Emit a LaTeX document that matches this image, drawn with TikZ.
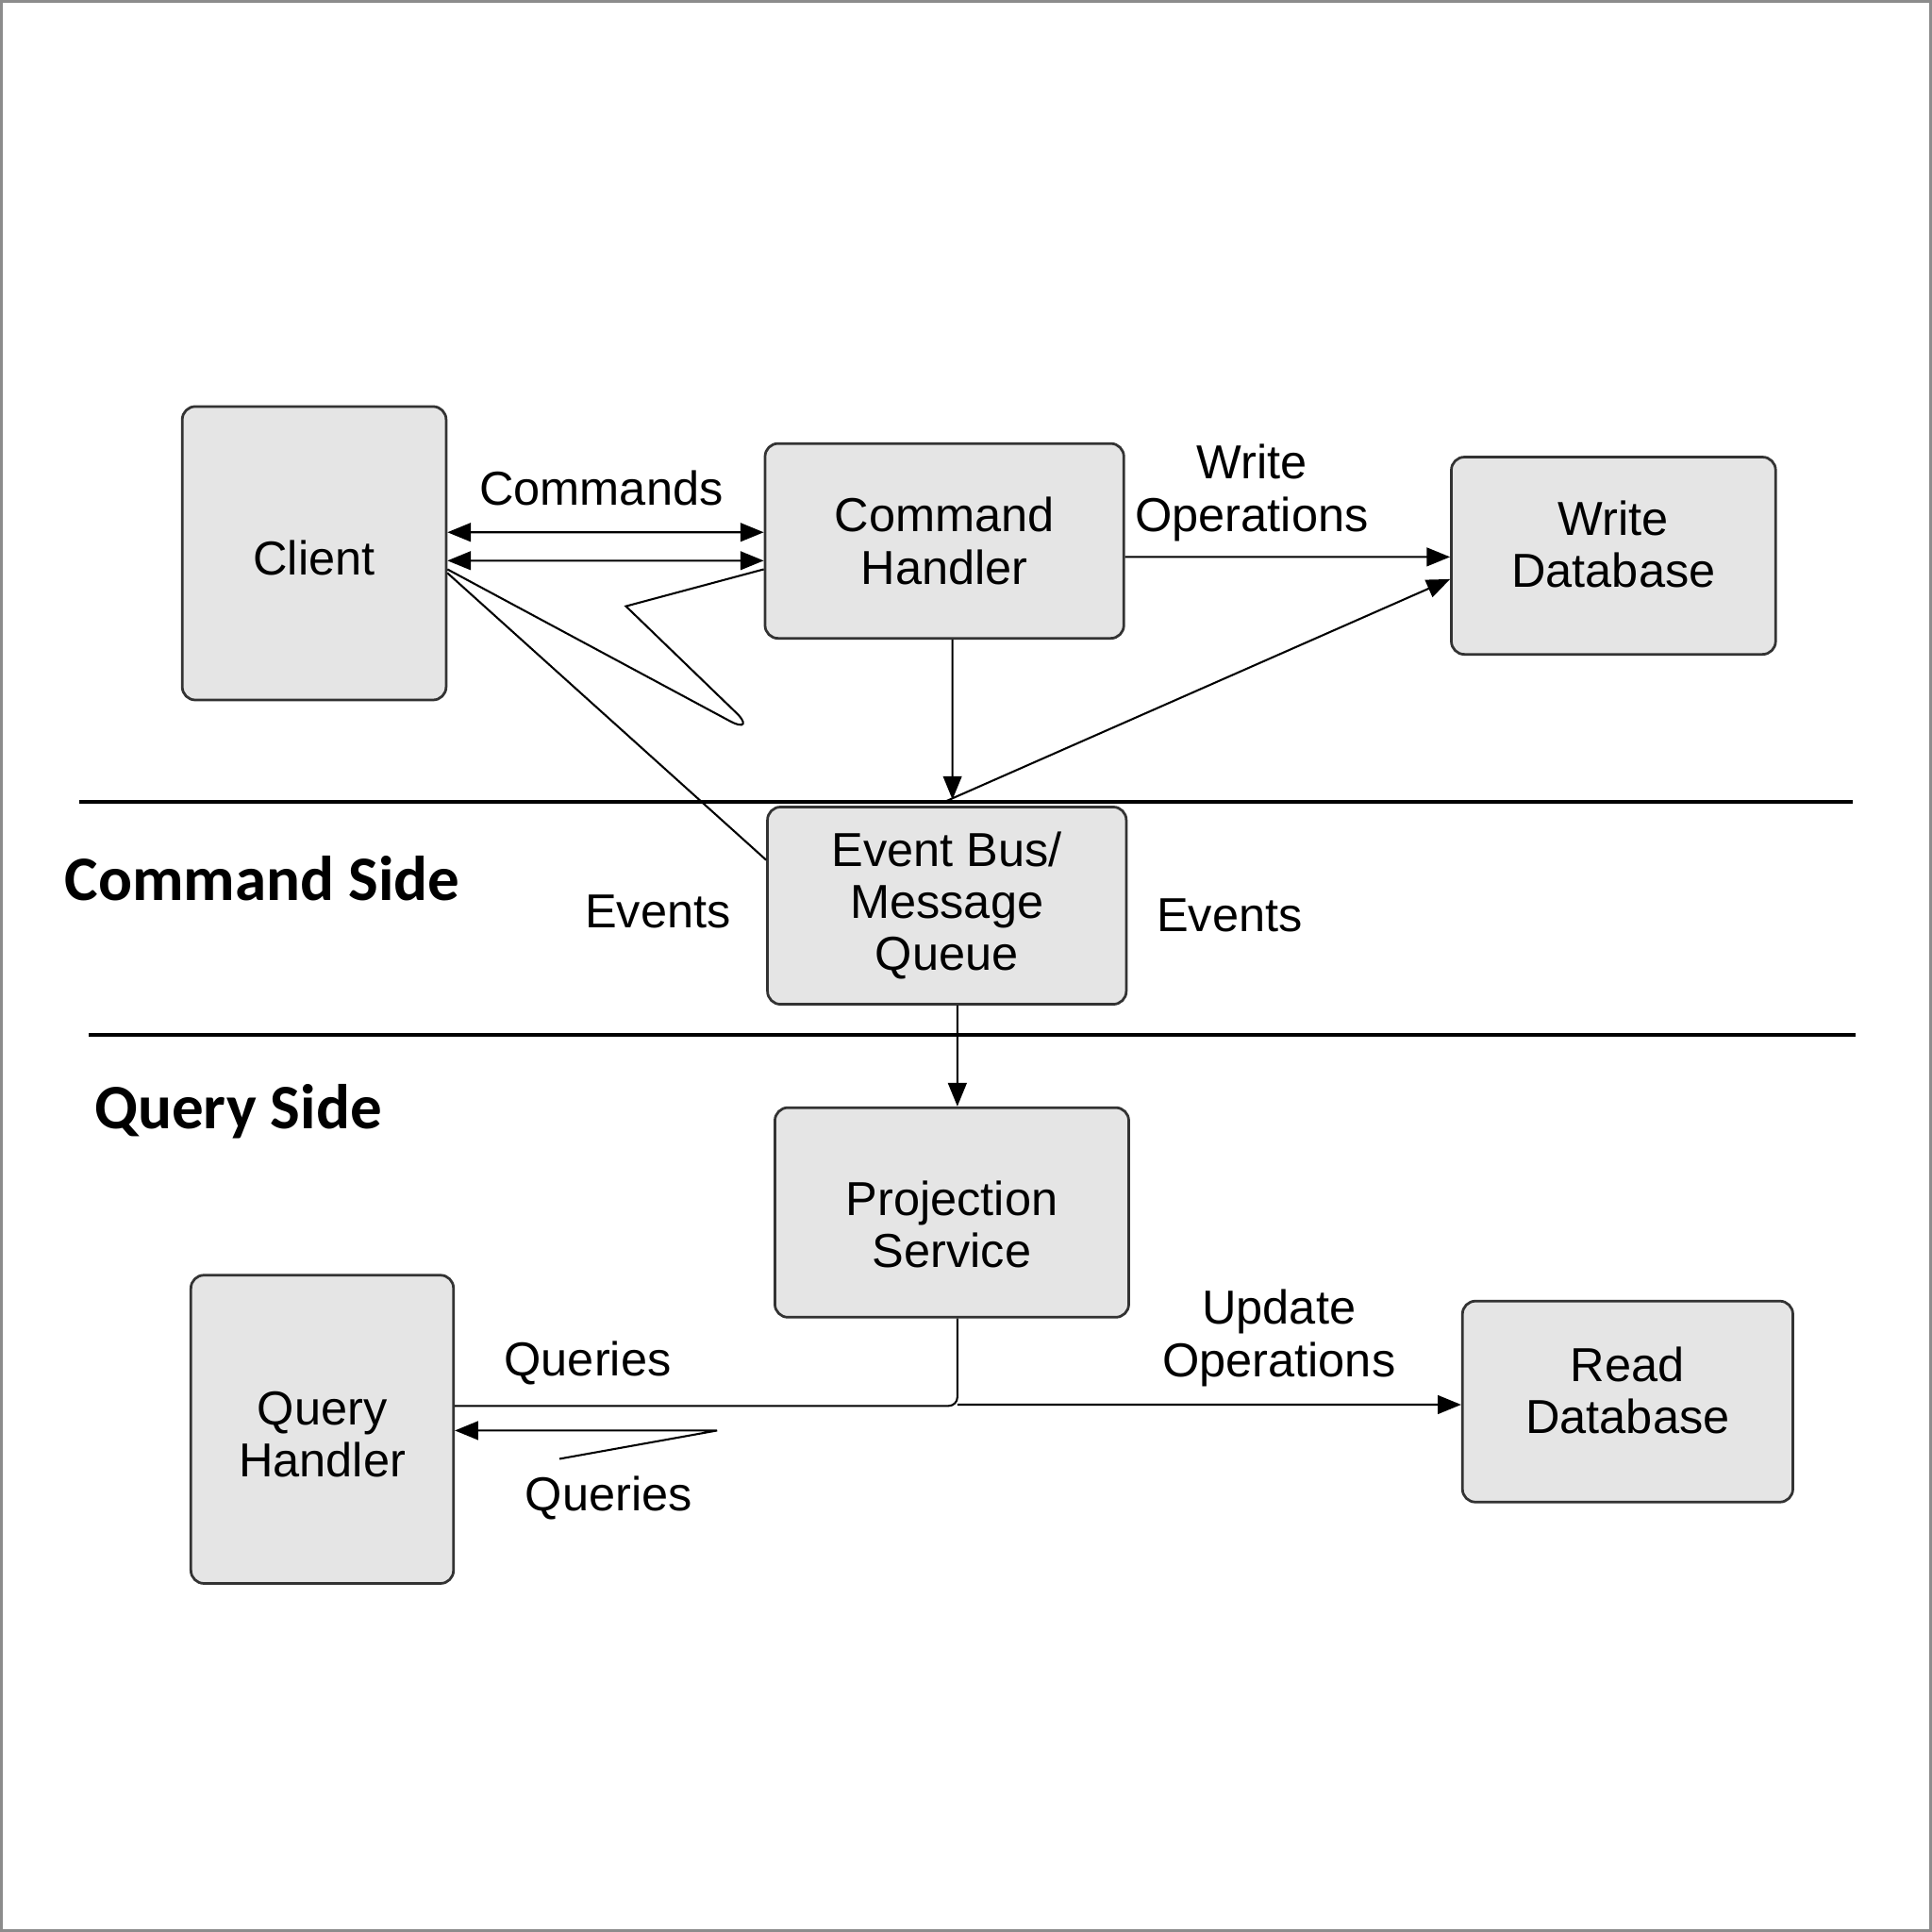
\documentclass[tikz,border=0pt]{standalone}
\usepackage{fontspec}
\setmainfont{Liberation Sans}
\newfontfamily\sidefont{Carlito}
\usetikzlibrary{arrows.meta,calc}
\tikzset{
  box/.style={draw=black!80,fill=black!10,rounded corners=3pt,line width=.6pt,align=center,inner sep=0pt,font=\fontsize{11}{12}\selectfont},
  lbl/.style={align=center,font=\fontsize{11}{12}\selectfont},
  side/.style={anchor=west,inner sep=0pt,font=\sidefont\bfseries\fontsize{14.6}{16}\selectfont},
  conn/.style={line width=.45pt},
  tip/.style={-{Triangle[length=5.4pt,width=4.3pt]}},
  tips/.style={{Triangle[length=5.4pt,width=4.3pt]}-{Triangle[length=5.4pt,width=4.3pt]}},
}
\begin{document}
\begin{tikzpicture}[x=0.01cm,y=-0.01cm]
    \useasboundingbox(0,0)rectangle(1568,1568);
    \draw[black!45,line width=.6pt](1,1)rectangle(1567,1567);
    \begin{scope}
      \node[box,minimum width=2.14cm,minimum height=2.38cm,label={[lbl,yshift=-.04cm]center:Client}](client)at(255,449){};
      \node[box,minimum width=2.91cm,minimum height=1.58cm](cmdh)at(766.5,439){Command\\Handler};
      \node[box,minimum width=2.63cm,minimum height=1.60cm,label={[lbl,yshift=.09cm]center:{Write\\Database}}](wdb)at(1309.5,451){};
      \node[box,minimum width=2.91cm,minimum height=1.60cm](bus)at(768.5,735){Event Bus/\\Message\\Queue};
      \node[box,minimum width=2.87cm,minimum height=1.70cm,label={[lbl,yshift=-.1cm]center:{Projection\\Service}}](proj)at(772.5,984){};
      \node[box,minimum width=2.13cm,minimum height=2.50cm,label={[lbl,yshift=-.04cm]center:{Query\\Handler}}](qh)at(261.5,1160){};
      \node[box,minimum width=2.68cm,minimum height=1.63cm,label={[lbl,yshift=.09cm]center:{Read\\Database}}](rdb)at(1321,1137.5){};
      \draw[line width=.8pt](64,651)--(1504,651);
      \draw[line width=.8pt](72,840)--(1506,840);
      \node[side](cmdside)at(52,713){Command Side};
      \node[side](qside)at(76,902){Query Side};
    \end{scope}
    \begin{scope}
      \coordinate(kink)at(508,492);
      \coordinate(loop)at(596,577);
      \coordinate(split)at(777,1140);
      \coordinate(qa)at(582,1161);
      \coordinate(qb)at(454,1184);
      \draw[conn,tips]([yshift=.17cm]client.east)--([yshift=.07cm]cmdh.west);
      \draw[conn,tips]([yshift=-.06cm]client.east)--([yshift=-.16cm]cmdh.west);
      \draw[conn]([yshift=-.23cm]cmdh.west)--(kink)--(loop)..controls(607,587)and(605,592)..(592,585)--([yshift=-.13cm]client.east);
      \draw[conn]([yshift=-.16cm]client.east)--([yshift=.37cm]bus.west);
      \draw[conn,tip]([xshift=.065cm]cmdh.south)--([xshift=.045cm,yshift=.05cm]bus.north);
      \draw[conn,tip]([yshift=.04cm]bus.north)--([yshift=-.19cm]wdb.west);
      \draw[conn,tip]([yshift=-.13cm]cmdh.east)--([yshift=-.01cm]wdb.west);
      \draw[conn,tip]([xshift=.085cm]bus.south)--([xshift=.045cm]proj.north);
      \draw[conn,rounded corners=2pt]([xshift=.045cm]proj.south)|-([yshift=.19cm]qh.east);
      \draw[conn,tip](split)--([yshift=-.025cm]rdb.west);
      \draw[conn,tip](qb)--(qa)--([yshift=-.01cm]qh.east);
      \node[lbl](cmds)at(488,396){Commands};
      \node[lbl](wops)at(1016,400){Write\\Operations};
      \node[lbl](evl)at(534,740){Events};
      \node[lbl](evr)at(998,743){Events};
      \node[lbl](qup)at(477,1106){Queries};
      \node[lbl](qdown)at(494,1216){Queries};
      \node[lbl](uops)at(1038,1086){Update\\Operations};
    \end{scope}
  \end{tikzpicture}
\end{document}
